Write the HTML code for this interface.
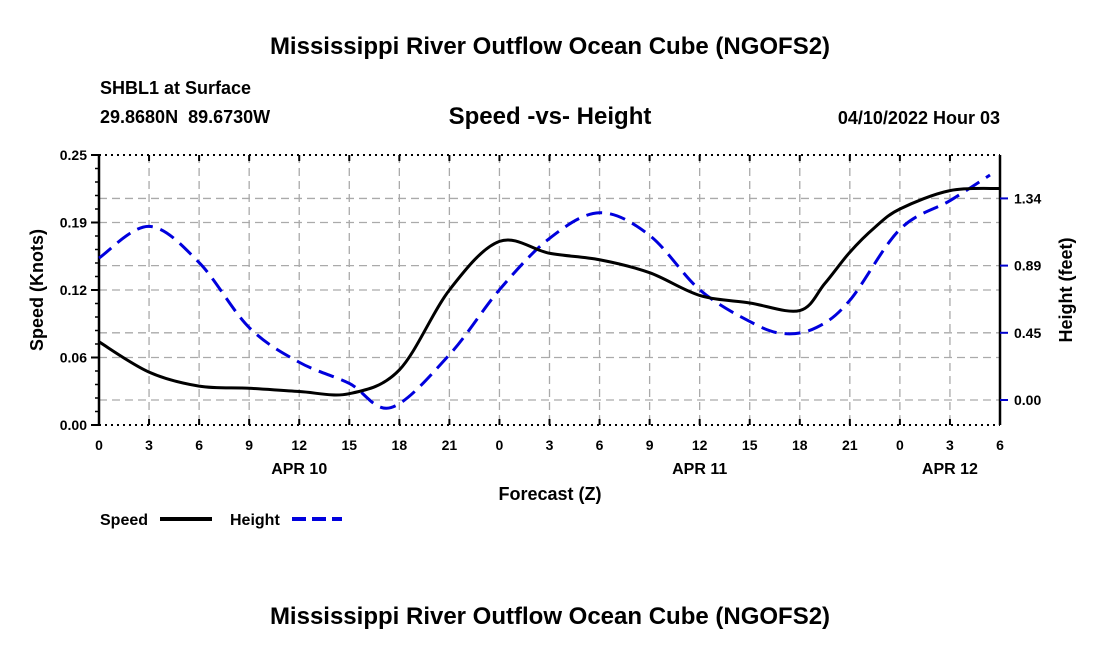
<!DOCTYPE html>
<html><head><meta charset="utf-8"><style>
body{margin:0;background:#fff;width:1100px;height:650px;overflow:hidden}
svg text{font-family:"Liberation Sans",Arial,sans-serif;font-weight:bold;fill:#000}
</style></head><body>
<svg id="c" width="1100" height="650">
<text x="550" y="54" font-size="24" text-anchor="middle">Mississippi River Outflow Ocean Cube (NGOFS2)</text>
<text x="100" y="94" font-size="18">SHBL1 at Surface</text>
<text x="100" y="123" font-size="18">29.8680N&#160;&#160;89.6730W</text>
<text x="550" y="124" font-size="24" text-anchor="middle">Speed -vs- Height</text>
<text x="1000" y="124" font-size="18" text-anchor="end">04/10/2022 Hour 03</text>
<text transform="translate(43,290) rotate(-90)" font-size="18" text-anchor="middle">Speed (Knots)</text>
<text transform="translate(1072,290) rotate(-90)" font-size="18" text-anchor="middle">Height (feet)</text>
<text x="550" y="500" font-size="18" text-anchor="middle">Forecast (Z)</text>
<text x="550" y="624" font-size="24" text-anchor="middle">Mississippi River Outflow Ocean Cube (NGOFS2)</text>
<g>
<text x="100" y="525" font-size="16">Speed</text>
<line x1="160" y1="519" x2="212" y2="519" stroke="#000" stroke-width="4"/>
<text x="230" y="525" font-size="16">Height</text>
<line x1="292" y1="519" x2="342" y2="519" stroke="#0000dd" stroke-width="4" stroke-dasharray="14,6"/>
</g>
<g id="plot"></g>
</svg>
<script>
const tickHours=[0,3,6,9,12,15,18,21,24,27,30,33,36,39,42,45,48,51,54];
const speedHours=[0,3,6,9,12,15,18,21,24,27,30,33,36,39,42,43.5,45,46.5,48,51,54];
const speed=[0.077,0.049,0.036,0.034,0.031,0.029,0.051,0.125,0.170,0.159,0.153,0.141,0.120,0.113,0.106,0.131,0.160,0.183,0.200,0.217,0.219];
const heightHours=[0,3,6,9,12,15,17.5,21,24,27,30,33,36,39,41,43,45,48,51,53.4];
const heightFt=[0.94,1.15,0.91,0.48,0.25,0.11,-0.05,0.30,0.73,1.07,1.24,1.09,0.73,0.52,0.44,0.48,0.66,1.13,1.32,1.49];
const xTickLabels=["0","3","6","9","12","15","18","21","0","3","6","9","12","15","18","21","0","3","6"];
const speedTicks=[0,0.0625,0.125,0.1875,0.25];
const speedTickLabels=["0.00","0.06","0.12","0.19","0.25"];
const heightTicks=[0,0.445,0.89,1.335];
const heightTickLabels=["0.00","0.45","0.89","1.34"];
const dayLabels=["APR 10","APR 11","APR 12"];
const dayHours=[12,36,51];

const L=99,R=1000,T=155,B=425;
const X=h=>L+(R-L)*h/54;
const Y=v=>B-(B-T)*v/0.25;
const Y2=v=>400-v*151;
const g=document.getElementById('plot');
const NS='http://www.w3.org/2000/svg';
function mk(t,a,p){const e=document.createElementNS(NS,t);for(const k in a)e.setAttribute(k,a[k]);(p||g).appendChild(e);return e;}
tickHours.forEach((h,i)=>{if(i>0&&i<tickHours.length-1){const e=mk('line',{x1:X(h),y1:T,x2:X(h),y2:B,stroke:'#aaa','stroke-width':1.3,'stroke-dasharray':'8,5'});

}});
speedTicks.slice(1,4).forEach(v=>{const e=mk('line',{x1:L,y1:Y(v),x2:R,y2:Y(v),stroke:'#aaa','stroke-width':1.3,'stroke-dasharray':'8,5'});

});
heightTicks.forEach(v=>{const e=mk('line',{x1:L,y1:Y2(v),x2:R,y2:Y2(v),stroke:'#aaa','stroke-width':1.3,'stroke-dasharray':'8,5'});

});
[[L,T,R,T],[L,B,R,B]].forEach(a=>{const e=mk('line',{x1:a[0],y1:a[1],x2:a[2],y2:a[3],stroke:'#000','stroke-width':2,'stroke-dasharray':'2,4'});

});
[[L,T,L,B],[R,T,R,B]].forEach(a=>{const e=mk('line',{x1:a[0],y1:a[1],x2:a[2],y2:a[3],stroke:'#000','stroke-width':2.5});

});
tickHours.forEach((h,i)=>{
 mk('line',{x1:X(h),y1:B,x2:X(h),y2:B-6,stroke:'#000','stroke-width':2});
 mk('line',{x1:X(h),y1:T,x2:X(h),y2:T+6,stroke:'#000','stroke-width':2});
 const t=mk('text',{x:X(h),y:450,'font-size':14,'text-anchor':'middle'});t.textContent=xTickLabels[i];
 
 
});
dayLabels.forEach((d,i)=>{const t=mk('text',{x:X(dayHours[i]),y:474,'font-size':16,'text-anchor':'middle'});t.textContent=d;

});
for(let k=0;k<=20;k++){const v=k*0.0125;mk('line',{x1:L,y1:Y(v),x2:L-(k%5==0?6:4),y2:Y(v),stroke:'#000','stroke-width':1.5});}
speedTicks.forEach((v,i)=>{mk('line',{x1:L,y1:Y(v),x2:L-8,y2:Y(v),stroke:'#000','stroke-width':2});
 const t=mk('text',{x:L-12,y:Y(v)+5,'font-size':14,'text-anchor':'end'});t.textContent=speedTickLabels[i];
 
 });
heightTicks.forEach((v,i)=>{mk('line',{x1:R,y1:Y2(v),x2:R+8,y2:Y2(v),stroke:'#0000cc','stroke-width':2});
 const t=mk('text',{x:R+14,y:Y2(v)+5,'font-size':14});t.textContent=heightTickLabels[i];
 
 });
function path(xs,ys){const p=xs.map((x,i)=>[x,ys[i]]);let d='M'+p[0][0]+','+p[0][1];
 for(let i=0;i<p.length-1;i++){const p0=p[Math.max(0,i-1)],p1=p[i],p2=p[i+1],p3=p[Math.min(p.length-1,i+2)];
 d+=' C'+(p1[0]+(p2[0]-p0[0])/6)+','+(p1[1]+(p2[1]-p0[1])/6)+' '+(p2[0]-(p3[0]-p1[0])/6)+','+(p2[1]-(p3[1]-p1[1])/6)+' '+p2[0]+','+p2[1];}
 return d;}
const hp=mk('path',{d:path(heightHours.map(X),heightFt.map(Y2)),fill:'none',stroke:'#0000dd','stroke-width':3,'stroke-dasharray':'16,8'});


const sp=mk('path',{d:path(speedHours.map(X),speed.map(Y)),fill:'none',stroke:'#000','stroke-width':3});


</script>
</body></html>
